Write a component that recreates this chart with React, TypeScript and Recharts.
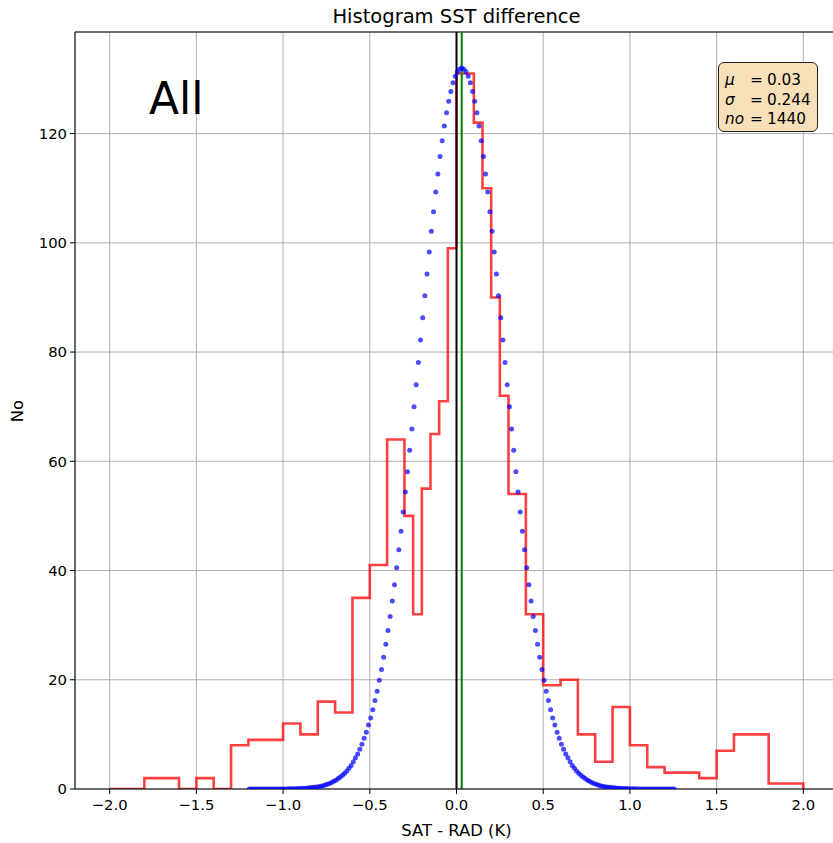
import { ComposedChart, Line, XAxis, YAxis, CartesianGrid, ReferenceLine } from "recharts";

// histogram bin edges (0.1 wide in the tails, 0.05 wide around the centre)
const binEdges = [
  -2.0, -1.9, -1.8, -1.7, -1.6, -1.5, -1.4, -1.3, -1.2, -1.1, -1.0, -0.9, -0.8, -0.7, -0.6, -0.5, -0.4, -0.3,
  -0.25, -0.2, -0.15, -0.1, -0.05, 0, 0.05, 0.1, 0.15, 0.2, 0.25, 0.3,
  0.4, 0.5, 0.6, 0.7, 0.8, 0.9, 1.0, 1.1, 1.2, 1.3, 1.4, 1.5, 1.6, 1.7, 1.8, 1.9, 2.0,
];

const binCounts = [
  0, 0, 2, 2, 0, 2, 0, 8, 9, 9, 12, 10, 16, 14, 35, 41, 64,
  50, 32, 55, 65, 71, 99, 131, 131, 122, 110, 90, 72,
  54, 32, 19, 20, 10, 5, 15, 8, 4, 3, 3, 2, 7, 10, 10, 1, 1,
];

// fitted normal curve, drawn as dots
const fitX = [
  -1.195, -1.1825, -1.17, -1.1575, -1.145, -1.1325, -1.12, -1.1075,
  -1.095, -1.0825, -1.07, -1.0575, -1.045, -1.0325, -1.02, -1.0075,
  -0.995, -0.9825, -0.97, -0.9575, -0.945, -0.9325, -0.92, -0.9075,
  -0.895, -0.8825, -0.87, -0.8575, -0.845, -0.8325, -0.82, -0.8075,
  -0.795, -0.7825, -0.77, -0.7575, -0.745, -0.7325, -0.72, -0.7075,
  -0.695, -0.6825, -0.67, -0.6575, -0.645, -0.6325, -0.62, -0.6075,
  -0.595, -0.5825, -0.57, -0.5575, -0.545, -0.5325, -0.52, -0.5075,
  -0.495, -0.4825, -0.47, -0.4575, -0.445, -0.4325, -0.42, -0.4075,
  -0.395, -0.3825, -0.37, -0.3575, -0.345, -0.3325, -0.32, -0.3075,
  -0.295, -0.2825, -0.27, -0.2575, -0.245, -0.2325, -0.22, -0.2075,
  -0.195, -0.1825, -0.17, -0.1575, -0.145, -0.1325, -0.12, -0.1075,
  -0.095, -0.0825, -0.07, -0.0575, -0.045, -0.0325, -0.02, -0.0075,
  0.005, 0.0175,
  0.03, 0.0425, 0.055, 0.0675, 0.08, 0.0925, 0.105, 0.1175,
  0.13, 0.1425, 0.155, 0.1675, 0.18, 0.1925, 0.205, 0.2175,
  0.23, 0.2425, 0.255, 0.2675, 0.28, 0.2925, 0.305, 0.3175,
  0.33, 0.3425, 0.355, 0.3675, 0.38, 0.3925, 0.405, 0.4175,
  0.43, 0.4425, 0.455, 0.4675, 0.48, 0.4925, 0.505, 0.5175,
  0.53, 0.5425, 0.555, 0.5675, 0.58, 0.5925, 0.605, 0.6175,
  0.63, 0.6425, 0.655, 0.6675, 0.68, 0.6925, 0.705, 0.7175,
  0.73, 0.7425, 0.755, 0.7675, 0.78, 0.7925, 0.805, 0.8175,
  0.83, 0.8425, 0.855, 0.8675, 0.88, 0.8925, 0.905, 0.9175,
  0.93, 0.9425, 0.955, 0.9675, 0.98, 0.9925, 1.005, 1.0175,
  1.03, 1.0425, 1.055, 1.0675, 1.08, 1.0925, 1.105, 1.1175,
  1.13, 1.1425, 1.155, 1.1675, 1.18, 1.1925, 1.205, 1.2175,
  1.23, 1.2425, 1.255,
];

const fitY = [
  0, 0, 0, 0, 0, 0, 0, 0,
  0, 0, 0, 0.01, 0.01, 0.01, 0.01, 0.02,
  0.02, 0.02, 0.03, 0.03, 0.04, 0.05, 0.07, 0.08,
  0.1, 0.12, 0.15, 0.18, 0.21, 0.26, 0.31, 0.37,
  0.43, 0.52, 0.61, 0.72, 0.85, 1.0, 1.2, 1.4,
  1.6, 1.9, 2.2, 2.5, 2.9, 3.3, 3.8, 4.3,
  5.0, 5.7, 6.4, 7.3, 8.2, 9.3, 10.4, 11.7,
  13.0, 14.5, 16.2, 17.9, 19.9, 21.9, 24.1, 26.5,
  29.0, 31.6, 34.4, 37.4, 40.5, 43.8, 47.2, 50.7,
  54.4, 58.1, 62.0, 65.9, 70.0, 74.0, 78.1, 82.2,
  86.3, 90.3, 94.3, 98.3, 102.1, 105.7, 109.3, 112.6,
  115.8, 118.7, 121.4, 123.8, 125.9, 127.7, 129.3, 130.5,
  131.3, 131.8,
  132.0, 131.8, 131.3, 130.5, 129.3, 127.7, 125.9, 123.8,
  121.4, 118.7, 115.8, 112.6, 109.3, 105.7, 102.1, 98.3,
  94.3, 90.3, 86.3, 82.2, 78.1, 74.0, 70.0, 65.9,
  62.0, 58.1, 54.4, 50.7, 47.2, 43.8, 40.5, 37.4,
  34.4, 31.6, 29.0, 26.5, 24.1, 21.9, 19.9, 17.9,
  16.2, 14.5, 13.0, 11.7, 10.4, 9.3, 8.2, 7.3,
  6.4, 5.7, 5.0, 4.3, 3.8, 3.3, 2.9, 2.5,
  2.2, 1.9, 1.6, 1.4, 1.2, 1.0, 0.85, 0.72,
  0.61, 0.52, 0.43, 0.37, 0.31, 0.26, 0.21, 0.18,
  0.15, 0.12, 0.1, 0.08, 0.07, 0.05, 0.04, 0.03,
  0.03, 0.02, 0.02, 0.02, 0.01, 0.01, 0.01, 0.01,
  0, 0, 0, 0, 0, 0, 0, 0,
  0, 0, 0,
];

const xTicks = [-2, -1.5, -1, -0.5, 0, 0.5, 1, 1.5, 2];
const yTicks = [0, 20, 40, 60, 80, 100, 120];
const xDomain = [-2.2, 2.2];
const yDomain = [0, 138.6];
const meanValue = 0.03;
const statsRows = [
  { sym: "μ", val: "0.03" },
  { sym: "σ", val: "0.244" },
  { sym: "no", val: "1440" },
];

const FONT = "'DejaVu Sans', sans-serif";

const stepData = binCounts.map((c, i) => ({ x: binEdges[i], y: c }));
const lastEdge = binEdges[binEdges.length - 1];
stepData.push({ x: lastEdge, y: binCounts[binCounts.length - 1] });
stepData.push({ x: lastEdge, y: 0 });

const fitData = fitX.map((x, i) => ({ x, y: fitY[i] }));

const fmtX = (v: number) => (v < 0 ? "\u2212" : "") + Math.abs(v).toFixed(1);

export default function App() {
  return (
    <div
      style={{
        position: "absolute",
        left: 0,
        top: 0,
        width: 833,
        height: 843,
        overflow: "hidden",
        background: "#fff",
        fontFamily: FONT,
      }}
    >
      <ComposedChart
        width={845}
        height={843}
        margin={{ top: 32, right: 7, bottom: 0, left: 0 }}
      >
        <CartesianGrid stroke="#b0b0b0" strokeWidth={1} />
        <XAxis
          dataKey="x"
          type="number"
          domain={xDomain}
          allowDataOverflow
          ticks={xTicks}
          tickFormatter={fmtX}
          height={54}
          tickSize={5}
          tickMargin={5}
          stroke="#000"
          tick={{ fill: "#000", fontSize: 14.8, fontFamily: FONT }}
        />
        <YAxis
          type="number"
          domain={yDomain}
          allowDataOverflow
          ticks={yTicks}
          width={75}
          tickSize={5}
          tickMargin={3}
          stroke="#000"
          tick={{ fill: "#000", fontSize: 14.8, fontFamily: FONT }}
        />
        <ReferenceLine y={yDomain[1]} stroke="#000" strokeWidth={1} />
        <Line
          data={stepData}
          dataKey="y"
          type="stepAfter"
          stroke="#ff0000"
          strokeOpacity={0.75}
          strokeWidth={2.6}
          dot={false}
          activeDot={false}
          isAnimationActive={false}
        />
        <ReferenceLine x={0} stroke="#000" strokeWidth={2} />
        <ReferenceLine x={meanValue} stroke="#008000" strokeWidth={2} />
        <Line
          data={fitData}
          dataKey="y"
          stroke="none"
          dot={{ r: 2.5, fill: "#0000ff", fillOpacity: 0.7, stroke: "none" }}
          activeDot={false}
          isAnimationActive={false}
        />
      </ComposedChart>

      <div
        style={{
          position: "absolute",
          left: 456.5,
          top: 16,
          transform: "translate(-50%, -50%)",
          fontSize: 19.5,
          whiteSpace: "nowrap",
        }}
      >
        Histogram SST difference
      </div>
      <div
        style={{
          position: "absolute",
          left: 456.5,
          top: 830,
          transform: "translate(-50%, -50%)",
          fontSize: 16.4,
          whiteSpace: "nowrap",
        }}
      >
        SAT - RAD (K)
      </div>
      <div
        style={{
          position: "absolute",
          left: 17,
          top: 411,
          transform: "translate(-50%, -50%) rotate(-90deg)",
          fontSize: 16.4,
          whiteSpace: "nowrap",
        }}
      >
        No
      </div>
      <div
        style={{
          position: "absolute",
          left: 149,
          top: 99,
          transform: "translateY(-50%)",
          fontSize: 44,
          lineHeight: 1,
          whiteSpace: "nowrap",
        }}
      >
        All
      </div>
      <div
        style={{
          position: "absolute",
          left: 718,
          top: 62,
          width: 98,
          height: 68,
          background: "#f7e0b9",
          border: "1.3px solid #222",
          borderRadius: 6,
          fontSize: 15.3,
        }}
      >
        {statsRows.map((r, i) => (
          <div
            key={r.sym}
            style={{
              position: "absolute",
              left: 0,
              top: 17 + i * 19.5,
              transform: "translateY(-50%)",
              width: "100%",
              height: 20,
              lineHeight: "20px",
              whiteSpace: "nowrap",
            }}
          >
            <span style={{ position: "absolute", left: 6, fontStyle: "italic" }}>{r.sym}</span>
            <span style={{ position: "absolute", left: 31 }}>=</span>
            <span style={{ position: "absolute", left: 48 }}>{r.val}</span>
          </div>
        ))}
      </div>
    </div>
  );
}
